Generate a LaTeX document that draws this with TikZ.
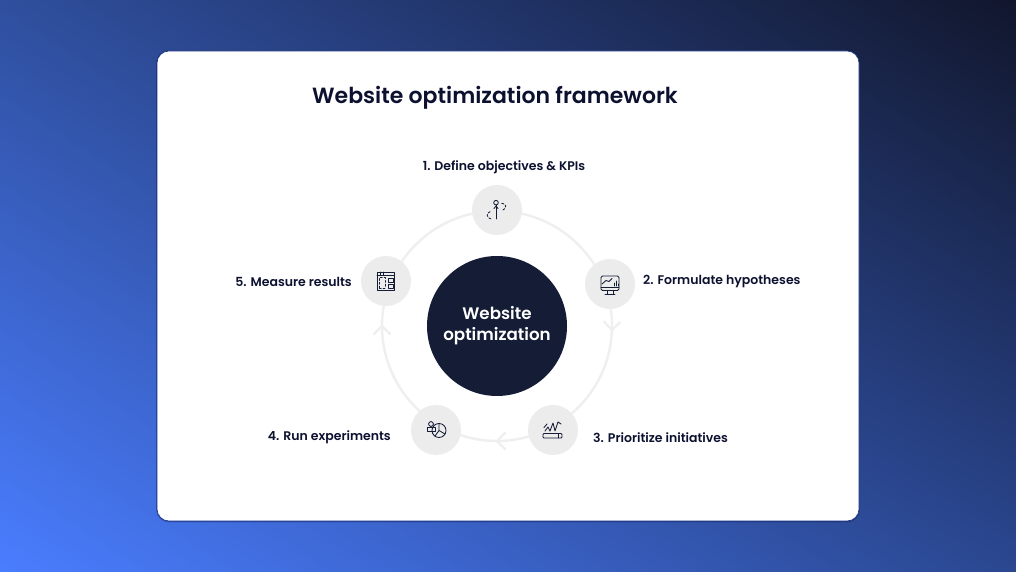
\documentclass[tikz,border=0pt]{standalone}
\usepackage{fontspec}
\setmainfont{Poppins}[UprightFont=*-Medium,BoldFont=*-SemiBold]
\usetikzlibrary{shadings,calc}
\definecolor{ink}{HTML}{141C36}
\definecolor{txt}{HTML}{0C1130}
\definecolor{disc}{HTML}{ECECEC}
\definecolor{ringc}{HTML}{EFEFEF}
\definecolor{bgBL}{HTML}{4A7DFF}
\definecolor{bgTL}{HTML}{2F4F9E}
\definecolor{bgTR}{HTML}{11162C}
\definecolor{bgBR}{HTML}{2A4790}
\definecolor{cardedge}{HTML}{14308A}
\pgfdeclarelayer{back}
\pgfdeclarelayer{ringlayer}
\pgfsetlayers{back,ringlayer,main}
\tikzset{
  x=1pt,y=1pt,
  stepdisc/.style={circle,fill=disc,minimum size=50pt,inner sep=0pt},
  hub/.style={circle,fill=ink,minimum size=140pt,inner sep=0pt,align=center,text=white,font=\fontsize{16.7}{21}\selectfont\bfseries},
  steplabel/.style={text=txt,inner sep=0pt,font=\fontsize{12.5}{15}\selectfont\bfseries},
  ringline/.style={draw=ringc,line width=2.4pt},
  chevlook/.style={draw=ringc,line width=2.2pt,line cap=round},
  icon/.style={draw=ink,line width=.85pt,line cap=round,line join=round},
}
\begin{document}
\begin{tikzpicture}
\useasboundingbox (0,0) rectangle (1016,572);
\begin{pgfonlayer}{back}
\shade[lower left=bgBL,upper left=bgTL,upper right=bgTR,lower right=bgBR] (0,0) rectangle (1016,572);
\path[fill=ink,opacity=.3,rounded corners=13pt] (156,49.5) rectangle (860,522);
\path[fill=white,draw=cardedge,line width=.6pt,rounded corners=12pt] (157,51) rectangle (859,521);
\end{pgfonlayer}
\node[text=txt,inner sep=0pt,font=\fontsize{22}{26}\selectfont\bfseries] (title) at (495,474) {Website optimization framework};
\node[stepdisc] (n1) at (497,362) {};
\node[stepdisc] (n2) at (610,288) {};
\node[stepdisc] (n3) at (553,142) {};
\node[stepdisc] (n4) at (436,142) {};
\node[stepdisc] (n5) at (386,291) {};
\node[hub] (hub) at (497,246) {Website\\optimization};
\begin{pgfonlayer}{ringlayer}
\draw[ringline] (n1.center) -- ($(hub.center)+(90:115)$) arc[start angle=90,end angle=20,radius=115] -- (n2.center);
\draw[ringline] (n2.center) -- ($(hub.center)+(20:115)$) arc[start angle=20,end angle=-62,radius=115] -- (n3.center);
\draw[ringline] (n3.center) -- ($(hub.center)+(-62:115)$) arc[start angle=-62,end angle=-120,radius=115] -- (n4.center);
\draw[ringline] (n4.center) -- ($(hub.center)+(-120:115)$) arc[start angle=-120,end angle=-202,radius=115] -- (n5.center);
\draw[ringline] (n5.center) -- ($(hub.center)+(158:115)$) arc[start angle=158,end angle=90,radius=115] -- (n1.center);
\draw[chevlook,shift={($(hub.center)+(-2:115)$)},rotate=-92] (-8,8)--(0,0)--(-8,-8);
\draw[chevlook,shift={($(hub.center)+(-90:115)$)},rotate=180] (-8,8)--(0,0)--(-8,-8);
\draw[chevlook,shift={($(hub.center)+(180:115)$)},rotate=90] (-8,8)--(0,0)--(-8,-8);
\end{pgfonlayer}
\node[steplabel] (l1) at (504,404.5) {1. Define objectives \& KPIs};
\node[steplabel,anchor=west] (l2) at (643,290.5) {2. Formulate hypotheses};
\node[steplabel,anchor=west] (l3) at (593,134.5) {3. Prioritize initiatives};
\node[steplabel,anchor=east] (l4) at (391,134.5) {4. Run experiments};
\node[steplabel,anchor=east] (l5) at (352,290.5) {5. Measure results};
% icon 1
\begin{scope}[shift={(n1.center)},icon]
\draw (-1,7.3) circle (2.3);
\draw (-1,5) -- (-1,-9);
\draw (-3,1.5)--(-1,4)--(1,1.5);
\draw[dash pattern=on 2.2pt off 1.8pt] (4.7,6.7) .. controls (9,6.5) and (11,2.5) .. (4.7,-.7);
\draw[dash pattern=on 2.2pt off 1.8pt] (-7,-1.7) .. controls (-11,-3) and (-11,-8) .. (-5.3,-9.3);
\end{scope}
% icon 2
\begin{scope}[shift={(n2.center)},icon]
\draw[rounded corners=1.5pt] (-9,-6.5) rectangle (9,8);
\draw (-9,-3.5) -- (9,-3.5);
\draw (-3,-6.5) -- (-3,-10) (3,-6.5) -- (3,-10) (-5,-10) -- (5,-10);
\draw (-8,0) -- (-4,3.5) -- (-1,2.5) -- (2,5.5);
\draw (4,-2)--(4,1) (6,-2)--(6,3) (8,-2)--(8,0);
\end{scope}
% icon 3
\begin{scope}[shift={(n3.center)},icon]
\draw[rounded corners=1pt] (-10,-8) rectangle (9,-3.5);
\draw (5,-8) -- (5,-3.5);
\draw (-8,-1) -- (-5,3) -- (-3,-1) (-9,2.5) -- (-6,6);
\draw (-3,-1) -- (0,7) -- (2,-1) -- (5,8) -- (8,6);
\end{scope}
% icon 4
\begin{scope}[shift={(n4.center)},icon]
\draw (-5,6) circle (2.4);
\draw (-9,-1) rectangle (-1,2.5);
\draw (3,6.5) arc (90:-270:7);
\draw (3,6.5) -- (3,-.5) -- (9,-4) (3,-.5) -- (-1,-6);
\end{scope}
% icon 5
\begin{scope}[shift={(n5.center)},icon]
\draw (-9,-9) rectangle (8.5,9);
\draw (-9,5.5) -- (8.5,5.5);
\draw (-6,5.5) -- (-6,9) (-3,5.5) -- (-3,9);
\draw[dash pattern=on 1.8pt off 2pt] (-6.5,-7) rectangle (-1,3.5);
\draw (2,-1.5) rectangle (7,3);
\draw (2,-7.5) rectangle (7,-3.5);
\end{scope}
\end{tikzpicture}
\end{document}
